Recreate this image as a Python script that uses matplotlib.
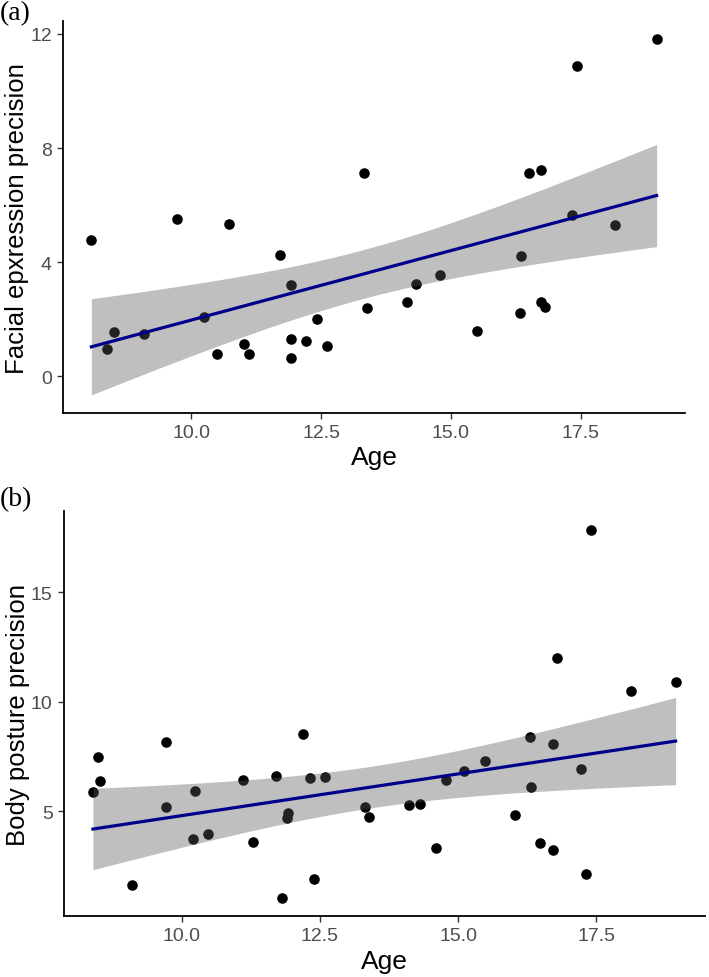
import numpy as np
import matplotlib
matplotlib.use("Agg")
import matplotlib.pyplot as plt

plt.rcParams['font.family'] = ['Liberation Sans', 'DejaVu Sans']

# panel (a): facial expression precision vs age
age_a = [8.08, 8.38, 8.52, 9.10, 9.72, 10.24, 10.49, 10.72, 11.01, 11.12,
         11.71, 11.92, 11.92, 11.92, 12.21, 12.42, 12.61, 13.32, 13.39, 14.15,
         14.33, 14.80, 15.50, 16.33, 16.35, 16.51, 16.73, 16.74, 16.82, 17.33,
         17.43, 18.16, 18.96]
face = [4.79, 0.96, 1.57, 1.48, 5.52, 2.09, 0.77, 5.34, 1.13, 0.79,
        4.27, 3.22, 1.31, 0.66, 1.23, 2.01, 1.07, 7.14, 2.38, 2.59,
        3.24, 3.56, 1.59, 2.23, 4.23, 7.11, 7.22, 2.62, 2.42, 5.66,
        10.87, 5.29, 11.81]

# panel (b): body posture precision vs age
age_b = [8.39, 8.48, 8.52, 9.09, 9.72, 9.72, 10.20, 10.24, 10.48, 11.11,
         11.29, 11.70, 11.82, 11.91, 11.92, 12.19, 12.32, 12.40, 12.60, 13.31,
         13.38, 14.12, 14.31, 14.61, 14.78, 15.11, 15.48, 16.03, 16.30, 16.32,
         16.49, 16.72, 16.72, 16.79, 17.22, 17.31, 17.41, 18.14, 18.94]
body = [5.88, 7.48, 6.37, 1.63, 8.15, 5.21, 3.72, 5.93, 3.96, 6.42,
        3.58, 6.61, 1.04, 4.71, 4.92, 8.52, 6.51, 1.91, 6.58, 5.20,
        4.74, 5.31, 5.32, 3.32, 6.43, 6.86, 7.30, 4.85, 8.40, 6.13,
        3.57, 8.09, 3.21, 12.02, 6.93, 2.14, 17.86, 10.48, 10.92]

# 97.5% t quantiles for n-2 degrees of freedom
t_a = 2.040
t_b = 2.026


def lm_band(x, y, tcrit):
    x = np.asarray(x)
    y = np.asarray(y)
    n = len(x)
    b, a = np.polyfit(x, y, 1)
    xs = np.linspace(x.min(), x.max(), 80)
    fit = a + b * xs
    resid = y - (a + b * x)
    s = np.sqrt(np.sum(resid ** 2) / (n - 2))
    se = s * np.sqrt(1 / n + (xs - x.mean()) ** 2 / np.sum((x - x.mean()) ** 2))
    return xs, fit, fit - tcrit * se, fit + tcrit * se


def panel(ax, x, y, tcrit, ylab, yticks):
    xs, fit, lo, hi = lm_band(x, y, tcrit)
    ax.scatter(x, y, s=58, color='black', zorder=2, linewidths=0)
    ax.fill_between(xs, lo, hi, color='#5A5A5A', alpha=0.39, lw=0, zorder=3)
    ax.plot(xs, fit, color='#00008B', lw=2.3, zorder=4)
    xmin, xmax = min(x), max(x)
    ymin = min(min(y), lo.min())
    ymax = max(max(y), hi.max())
    ax.set_xlim(xmin - 0.05 * (xmax - xmin), xmax + 0.05 * (xmax - xmin))
    ax.set_ylim(ymin - 0.05 * (ymax - ymin), ymax + 0.05 * (ymax - ymin))
    ax.set_xticks([10, 12.5, 15, 17.5])
    ax.set_xticklabels(['10.0', '12.5', '15.0', '17.5'])
    ax.set_yticks(yticks)
    ax.set_xlabel('Age', fontsize=19, labelpad=3)
    ax.set_ylabel(ylab, fontsize=18.5, labelpad=1)
    for sp in ['top', 'right']:
        ax.spines[sp].set_visible(False)
    for sp in ['left', 'bottom']:
        ax.spines[sp].set_linewidth(1.3)
        ax.spines[sp].set_color('black')
    ax.tick_params(axis='both', length=4, width=1, color='#333333',
                   labelcolor='#4D4D4D', labelsize=14, pad=4)


fig = plt.figure(figsize=(7.09, 9.78), dpi=100)
ax1 = fig.add_axes([0.089, 0.577, 0.877, 0.400])
ax2 = fig.add_axes([0.090, 0.062, 0.904, 0.414])

panel(ax1, age_a, face, t_a, 'Facial epxression precision', [0, 4, 8, 12])
panel(ax2, age_b, body, t_b, 'Body posture precision', [5, 10, 15])

fig.text(0.0, 0.999, '(a)', family='Liberation Serif', fontsize=20, va='top', ha='left')
fig.text(0.0, 0.502, '(b)', family='Liberation Serif', fontsize=20, va='top', ha='left')

fig.savefig('out.png', dpi=100)
